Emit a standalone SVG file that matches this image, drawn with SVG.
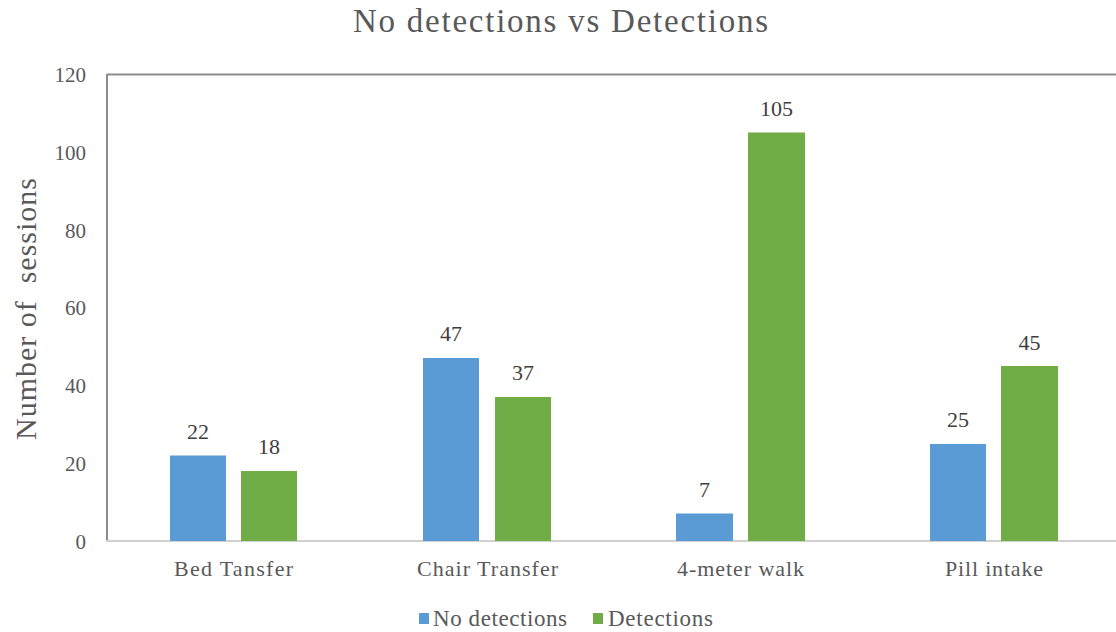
<svg xmlns="http://www.w3.org/2000/svg" width="1116" height="632" viewBox="0 0 1116 632">
<style>
text{font-family:"Liberation Serif","Times New Roman",serif;fill:#404040}
.title{font-size:33px;fill:#595959}
.tick{font-size:21px;fill:#595959;text-anchor:end}
.cat{font-size:22px;fill:#595959}
.val{font-size:22px;text-anchor:middle}
.leg{font-size:23px;fill:#595959}
.ytitle{font-size:30px;fill:#595959}
.blue{fill:#5B9BD5}
.green{fill:#70AD47}
</style>
<rect width="1116" height="632" fill="#ffffff"/>
<text class="title" x="353" y="32" textLength="415" lengthAdjust="spacing">No detections vs Detections</text>
<g id="axes">
<line x1="107" y1="74.5" x2="1116" y2="74.5" stroke="#8c8c8c" stroke-width="2"/>
<line x1="107" y1="74" x2="107" y2="541" stroke="#8c8c8c" stroke-width="2"/>
<line x1="106" y1="541" x2="1116" y2="541" stroke="#d0d0d0" stroke-width="2"/>
</g>
<g id="ticks">
<text class="tick" x="86" y="82">120</text>
<text class="tick" x="86" y="160">100</text>
<text class="tick" x="86" y="238">80</text>
<text class="tick" x="86" y="315">60</text>
<text class="tick" x="86" y="393">40</text>
<text class="tick" x="86" y="471">20</text>
<text class="tick" x="86" y="549">0</text>
</g>
<text class="ytitle" transform="translate(36 440) rotate(-90)" textLength="262" lengthAdjust="spacing" xml:space="preserve">Number of  sessions</text>
<g id="bed-transfer">
<rect class="blue" x="170" y="455.5" width="56" height="85.5"/>
<rect class="green" x="241" y="471" width="56" height="70"/>
<text class="val" x="198" y="439">22</text>
<text class="val" x="269" y="454">18</text>
<text class="cat" x="174" y="576" textLength="119" lengthAdjust="spacing">Bed Tansfer</text>
</g>
<g id="chair-transfer">
<rect class="blue" x="423" y="358" width="56" height="183"/>
<rect class="green" x="495" y="397" width="56" height="144"/>
<text class="val" x="451" y="341">47</text>
<text class="val" x="523" y="380">37</text>
<text class="cat" x="417" y="576" textLength="141" lengthAdjust="spacing">Chair Transfer</text>
</g>
<g id="four-meter-walk">
<rect class="blue" x="676" y="513.5" width="57" height="27.5"/>
<rect class="green" x="748" y="132.5" width="57" height="408.5"/>
<text class="val" x="704.5" y="497">7</text>
<text class="val" x="776.5" y="116">105</text>
<text class="cat" x="677" y="576" textLength="127" lengthAdjust="spacing">4-meter walk</text>
</g>
<g id="pill-intake">
<rect class="blue" x="930" y="444" width="56" height="97"/>
<rect class="green" x="1001" y="366" width="57" height="175"/>
<text class="val" x="958" y="427">25</text>
<text class="val" x="1029.5" y="350">45</text>
<text class="cat" x="945" y="576" textLength="98" lengthAdjust="spacing">Pill intake</text>
</g>
<g id="legend">
<rect class="blue" x="419" y="613" width="10" height="11"/>
<text class="leg" x="433" y="626" textLength="134" lengthAdjust="spacing">No detections</text>
<rect class="green" x="593" y="613" width="10" height="11"/>
<text class="leg" x="608" y="626" textLength="105" lengthAdjust="spacing">Detections</text>
</g>
</svg>
